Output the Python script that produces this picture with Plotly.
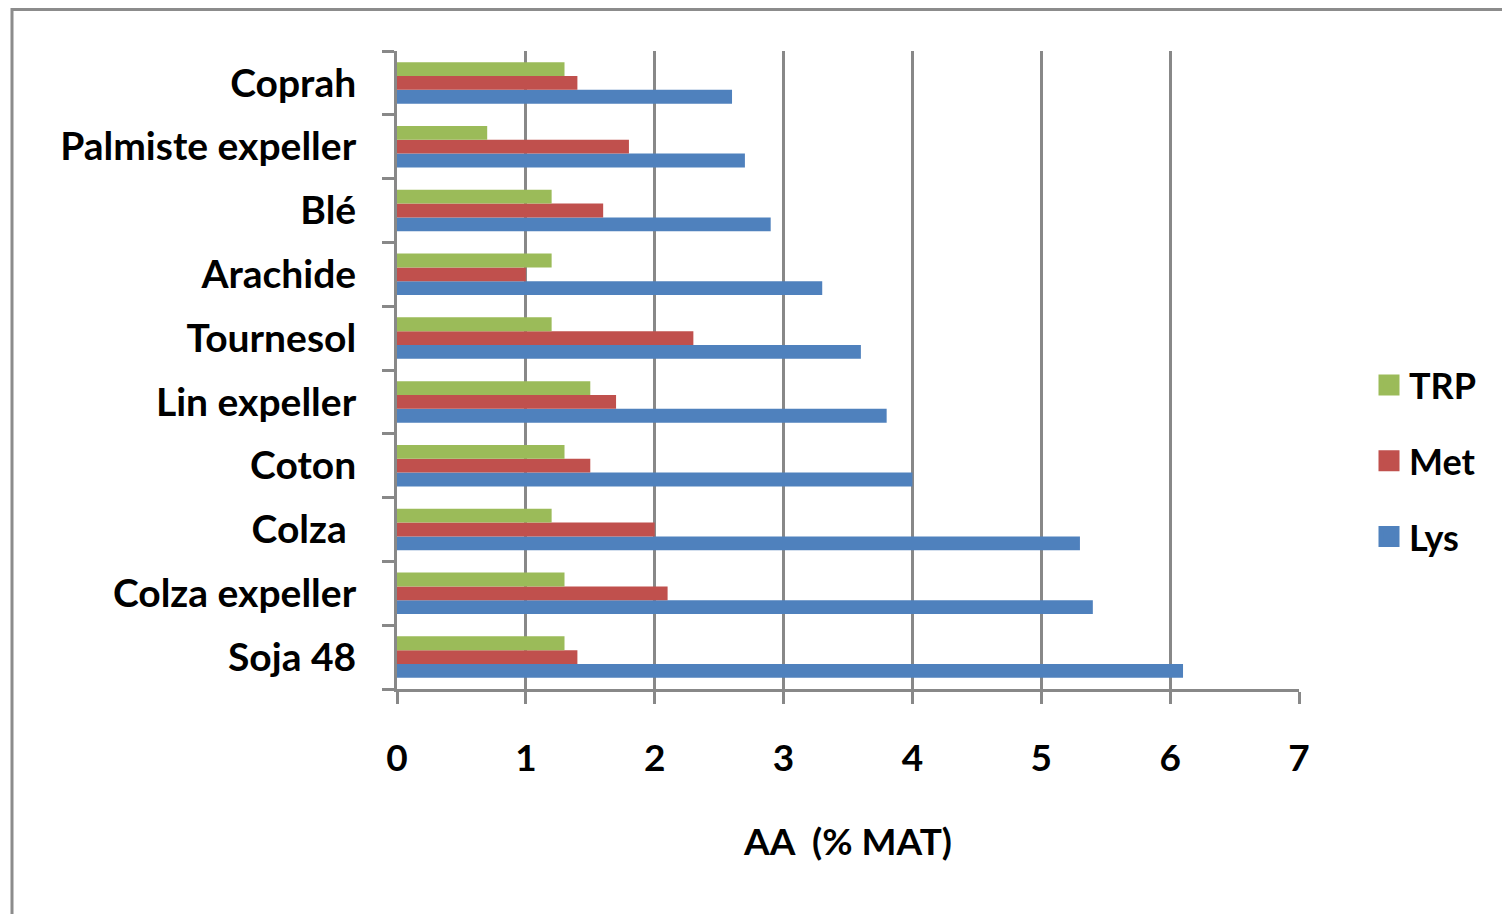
import plotly.graph_objects as go

categories = ["Soja 48", "Colza expeller", "Colza\u00a0", "Coton", "Lin expeller",
              "Tournesol", "Arachide", "Blé", "Palmiste expeller", "Coprah"]
lys = [6.1, 5.4, 5.3, 4.0, 3.8, 3.6, 3.3, 2.9, 2.7, 2.6]
met = [1.4, 2.1, 2.0, 1.5, 1.7, 2.3, 1.0, 1.6, 1.8, 1.4]
trp = [1.3, 1.3, 1.2, 1.3, 1.5, 1.2, 1.2, 1.2, 0.7, 1.3]
x_ticks = [0, 1, 2, 3, 4, 5, 6, 7]

series = [("Lys", lys, "#4F81BD"), ("Met", met, "#C0504D"), ("TRP", trp, "#9BBB59")]

FONT = "Lato"
GRID = "#888888"
OFF = 8  # page body margin

fig = go.Figure()
for name, vals, col in series:
    fig.add_trace(go.Bar(y=categories, x=vals, name=name, orientation="h",
                         marker=dict(color=col, line=dict(width=0)),
                         showlegend=False))
for rank, (name, vals, col) in enumerate(reversed(series)):
    fig.add_trace(go.Scatter(x=[None], y=[None], mode="markers", name=name,
                             legendgroup=name, legendrank=rank + 1,
                             marker=dict(symbol="square", size=16, color=col,
                                         line=dict(width=5, color=col))))

# target plot area in screenshot pixels
L, R, T, B = 397, 1299, 51, 689
W, H = 1510, 914
l, r, t, b = L - OFF, R - OFF, T - OFF, B - OFF

def px_x(sx):
    return (sx - L) / (R - L)

def px_y(sy):
    return (B - sy) / (B - T)

fig.update_layout(
    width=W, height=H,
    margin=dict(l=l, r=W - r, t=t, b=H - b, pad=0),
    paper_bgcolor="white", plot_bgcolor="white",
    barmode="group", bargap=0.35, bargroupgap=0,
    font=dict(family=FONT, color="black"),
    showlegend=True,
    legend=dict(x=px_x(1369), xanchor="left",
                y=px_y(461), yanchor="middle",
                traceorder="grouped", tracegroupgap=26,
                font=dict(family=FONT, size=36, color="black", weight="bold"),
                bgcolor="rgba(0,0,0,0)", borderwidth=0),
    xaxis=dict(range=[0, 7], tickvals=x_ticks, ticktext=[str(v) for v in x_ticks],
               showgrid=True, gridcolor=GRID, gridwidth=3,
               showline=True, linecolor=GRID, linewidth=3,
               ticks="outside", ticklen=12, tickwidth=3, tickcolor=GRID,
               ticklabelstandoff=23, zeroline=False,
               tickfont=dict(family=FONT, size=37, color="black", weight="bold"),
               title=dict(text="AA  (% MAT)", standoff=51,
                          font=dict(family=FONT, size=37, color="black", weight="bold"))),
    yaxis=dict(type="category", categoryorder="array", categoryarray=categories,
               showgrid=False, showline=True, linecolor=GRID, linewidth=3,
               ticks="outside", ticklen=12, tickwidth=3, tickcolor=GRID,
               tickson="boundaries", ticklabelstandoff=30,
               tickfont=dict(family=FONT, size=39, color="black", weight="bold")),
)

fig.add_shape(type="rect", xref="paper", yref="paper",
              x0=px_x(12), x1=px_x(W + 30),
              y0=px_y(H + 30), y1=px_y(OFF + 1.5),
              line=dict(color="#8C8C8C", width=3), fillcolor="rgba(0,0,0,0)",
              layer="below")

fig.write_html("out.html")
